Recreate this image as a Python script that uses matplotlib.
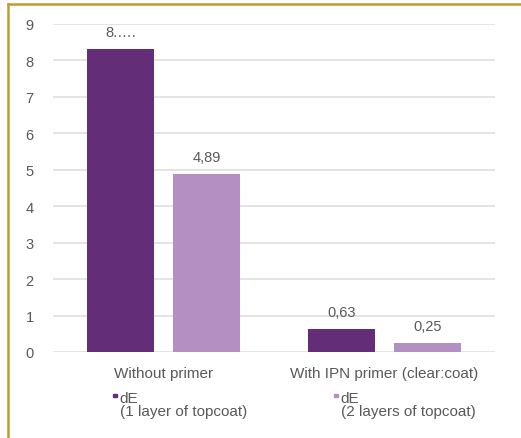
import matplotlib.pyplot as plt
from matplotlib.lines import Line2D
from matplotlib.patches import Rectangle
import numpy as np

plt.rcParams['font.family'] = ['Liberation Sans', 'DejaVu Sans']

# dados
categorias = ["Without primer", "With IPN primer (clear\u02d0coat)"]
series = ["dE\n(1 layer of topcoat)", "dE\n(2 layers of topcoat)"]
valores_1 = [8.32, 0.63]
valores_2 = [4.89, 0.25]
rotulos_1 = ["8.\u2026.", "0,63"]
rotulos_2 = ["4,89", "0,25"]
cores = ["#642D77", "#B48FC2"]
cor_texto = "#595959"

fig = plt.figure(figsize=(5.21, 4.39), dpi=100)
ax = fig.add_axes([53 / 521, 1 - 353 / 439, 442 / 521, 328 / 439])

x = np.arange(len(categorias))
largura = 0.30
desloc = 0.195

b1 = ax.bar(x - desloc, valores_1, largura, color=cores[0], zorder=3)
b2 = ax.bar(x + desloc, valores_2, largura, color=cores[1], zorder=3)

for barras, rotulos in [(b1, rotulos_1), (b2, rotulos_2)]:
    for barra, rot in zip(barras, rotulos):
        ax.text(barra.get_x() + barra.get_width() / 2, barra.get_height() + 0.27, rot,
                ha='center', va='bottom', fontsize=10.5, color=cor_texto)

ax.set_xlim(-0.5, 1.5)
ax.set_ylim(0, 9)
ax.set_yticks(range(0, 10))
ax.set_xticks(x)
ax.set_xticklabels(categorias, fontsize=11)
ax.tick_params(axis='both', length=0, colors=cor_texto)
ax.tick_params(axis='y', labelsize=10.5, pad=14)
ax.tick_params(axis='x', pad=10)
ax.grid(axis='y', color='#E3DEDE', linewidth=1.2, zorder=0)
for s in ax.spines.values():
    s.set_visible(False)

# legenda feita a mao, abaixo de cada categoria
for i, (nome, cor) in enumerate(zip(series, cores)):
    x0 = (115 - 53) / 442 + i * 0.5
    ax.add_patch(Rectangle((x0 - 0.0045, -0.1385), 0.009, 0.011, transform=ax.transAxes,
                           color=cor, clip_on=False))
    ax.text(x0 + 0.011, -0.118, nome, transform=ax.transAxes, ha='left', va='top',
            fontsize=11, color=cor_texto, linespacing=0.95)

# moldura dourada
fig.add_artist(Line2D([8 / 521, 1], [1 - 5 / 439, 1 - 5 / 439], color='#C39B2E', linewidth=1.8,
                      transform=fig.transFigure))
fig.add_artist(Line2D([8 / 521, 8 / 521], [0, 1 - 5 / 439], color='#C39B2E', linewidth=1.8,
                      transform=fig.transFigure))

fig.savefig("out.png", dpi=100)
